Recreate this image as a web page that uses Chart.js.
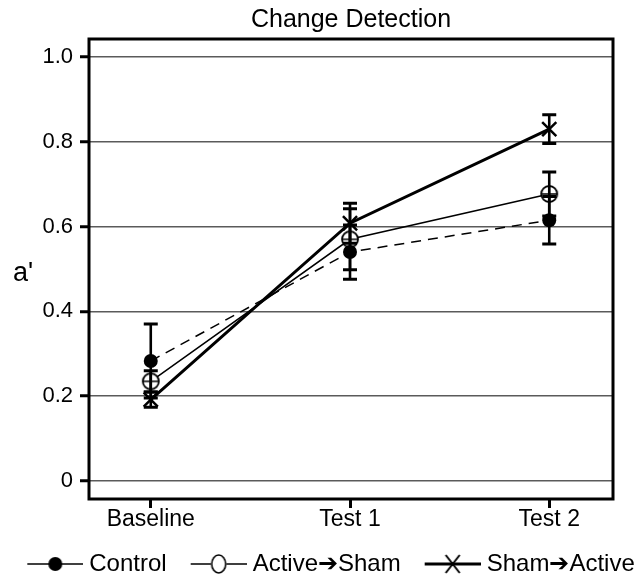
<!DOCTYPE html>
<html>
<head>
<meta charset="utf-8">
<script src="https://cdn.jsdelivr.net/npm/chart.js@4/dist/chart.umd.min.js"></script>
<style>
  html, body { margin: 0; padding: 0; background: #fff; }
  #wrap { width: 642px; height: 578px; }
</style>
</head>
<body>
<div id="wrap"><canvas id="c" width="642" height="578"></canvas></div>
<script>
// ---- data ----
const categories = ['Baseline', 'Test 1', 'Test 2'];
const seriesNames = ['Control', 'Active\u2794Sham', 'Sham\u2794Active'];
const controlMean = [0.283, 0.540, 0.615];
const controlErr  = [0.087, 0.064, 0.056];
const activeMean  = [0.235, 0.570, 0.677];
const activeErr   = [0.025, 0.072, 0.052];
const shamMean    = [0.192, 0.608, 0.830];
const shamErr     = [0.018, 0.047, 0.034];
const yTicks = [0, 0.2, 0.4, 0.6, 0.8, 1.0];
const titleText = 'Change Detection';
const yTitleText = "a'";

const FONT = "'Liberation Sans', Arial, Helvetica, sans-serif";

// ---- marker images ----
function makeCanvas(w, h, draw) {
  const cv = document.createElement('canvas');
  cv.width = w; cv.height = h;
  const g = cv.getContext('2d');
  draw(g, w, h);
  return cv;
}
function drawOpenCross(g, cx, cy, r) {
  g.beginPath(); g.arc(cx, cy, r, 0, Math.PI * 2);
  g.fillStyle = '#fff'; g.fill();
  g.lineWidth = 1.8; g.strokeStyle = '#000'; g.stroke();
  g.lineWidth = 1.4;
  g.beginPath(); g.moveTo(cx - r, cy); g.lineTo(cx + r, cy);
  g.moveTo(cx, cy - r); g.lineTo(cx, cy + r); g.stroke();
}
const activeMarker = makeCanvas(20, 20, (g) => drawOpenCross(g, 10, 10, 8));

// legend icons: 76px wide canvas, symbol drawn in the right 56px
const LW = 76, LH = 22, L0 = 20, LC = 48;
const legendControl = makeCanvas(LW, LH, (g, w, h) => {
  g.strokeStyle = '#000'; g.lineWidth = 1.5;
  g.beginPath(); g.moveTo(L0, h / 2); g.lineTo(w, h / 2); g.stroke();
  g.beginPath(); g.arc(LC, h / 2, 7, 0, Math.PI * 2); g.fillStyle = '#000'; g.fill();
});
const legendActive = makeCanvas(LW, LH, (g, w, h) => {
  g.strokeStyle = '#000'; g.lineWidth = 1.5;
  g.beginPath(); g.moveTo(L0, h / 2); g.lineTo(LC - 8, h / 2);
  g.moveTo(LC + 8, h / 2); g.lineTo(w, h / 2); g.stroke();
  g.beginPath(); g.ellipse(LC, h / 2, 7, 9, 0, 0, Math.PI * 2); g.lineWidth = 1.6; g.stroke();
});
const legendSham = makeCanvas(LW, LH, (g, w, h) => {
  g.strokeStyle = '#000'; g.lineWidth = 3;
  g.beginPath(); g.moveTo(L0, h / 2); g.lineTo(w, h / 2); g.stroke();
  g.lineWidth = 2;
  g.beginPath(); g.moveTo(LC - 7, h / 2 - 9); g.lineTo(LC + 7, h / 2 + 9);
  g.moveTo(LC + 7, h / 2 - 9); g.lineTo(LC - 7, h / 2 + 9); g.stroke();
});
const legendImgs = [legendControl, legendActive, legendSham];

const means = [controlMean, activeMean, shamMean];
const errs = [controlErr, activeErr, shamErr];

function pts(arr) { return arr.map((v, i) => ({ x: i, y: v })); }

// ---- plugins ----
const errorBars = {
  id: 'errorBars',
  afterDatasetsDraw(chart) {
    const { ctx, scales: { x, y } } = chart;
    ctx.save();
    ctx.strokeStyle = '#000';
    means.forEach((m, d) => {
      m.forEach((v, i) => {
        const px = x.getPixelForValue(i);
        const top = y.getPixelForValue(v + errs[d][i]);
        const bot = y.getPixelForValue(v - errs[d][i]);
        ctx.lineWidth = 2.6;
        ctx.beginPath(); ctx.moveTo(px, top); ctx.lineTo(px, bot); ctx.stroke();
        ctx.lineWidth = 3;
        ctx.beginPath();
        ctx.moveTo(px - 7, top); ctx.lineTo(px + 7, top);
        ctx.moveTo(px - 7, bot); ctx.lineTo(px + 7, bot);
        ctx.stroke();
      });
    });
    ctx.restore();
  }
};
const frame = {
  id: 'frame',
  afterDraw(chart) {
    const { ctx, chartArea: a } = chart;
    ctx.save();
    ctx.strokeStyle = '#000'; ctx.lineWidth = 3;
    ctx.strokeRect(a.left, a.top, a.right - a.left, a.bottom - a.top);
    // y axis title (horizontal)
    ctx.fillStyle = '#000';
    ctx.font = '27px ' + FONT;
    ctx.textAlign = 'center';
    ctx.textBaseline = 'alphabetic';
    ctx.fillText(yTitleText, 23, (a.top + a.bottom) / 2 + 12);
    ctx.restore();
  }
};

Chart.defaults.font.family = FONT;
Chart.defaults.color = '#000';

new Chart(document.getElementById('c'), {
  type: 'line',
  data: {
    datasets: [
      {
        label: seriesNames[0], data: pts(controlMean),
        borderColor: '#000', borderWidth: 1.5, borderDash: [10, 7],
        pointStyle: 'circle', pointRadius: 7, pointBackgroundColor: '#000', pointBorderColor: '#000', pointBorderWidth: 0,
        tension: 0, fill: false, clip: false
      },
      {
        label: seriesNames[1], data: pts(activeMean),
        borderColor: '#000', borderWidth: 1.5,
        pointStyle: activeMarker, pointRadius: 8,
        tension: 0, fill: false, clip: false
      },
      {
        label: seriesNames[2], data: pts(shamMean),
        borderColor: '#000', borderWidth: 3,
        pointStyle: 'crossRot', pointRadius: 10, pointBorderColor: '#000', pointBorderWidth: 2.5,
        tension: 0, fill: false, clip: false
      }
    ]
  },
  options: {
    responsive: false,
    animation: false,
    events: [],
    devicePixelRatio: 1,
    layout: { padding: { left: -24, right: -30, top: 0, bottom: -8 } },
    scales: {
      x: {
        type: 'linear', position: 'bottom',
        min: -0.31, max: 2.32,
        afterBuildTicks: (axis) => { axis.ticks = categories.map((c, i) => ({ value: i })); },
        afterFit: (s) => { s.height = 43; },
        ticks: {
          callback: (v) => categories[v],
          font: { size: 23 }, color: '#000', padding: -2, maxRotation: 0, autoSkip: false
        },
        grid: { drawOnChartArea: false, drawTicks: true, tickLength: 9, tickWidth: 3, tickColor: '#000' },
        border: { display: false }
      },
      y: {
        type: 'linear', position: 'left',
        min: -0.0425, max: 1.0425,
        afterBuildTicks: (axis) => { axis.ticks = yTicks.map((v) => ({ value: v })); },
        afterFit: (s) => { s.width = 113; },
        ticks: {
          callback: (v) => (v === 0 ? '0' : v.toFixed(1)),
          font: { size: 22 }, color: '#000', padding: 7
        },
        grid: { color: '#5a5a5a', lineWidth: 1.5, drawTicks: true, tickLength: 9, tickWidth: 3, tickColor: '#000' },
        border: { display: false }
      },
      y2: {
        type: 'linear', position: 'right', display: true,
        min: 0, max: 1,
        afterFit: (s) => { s.width = 59; },
        ticks: { display: false },
        grid: { display: false },
        border: { display: false }
      }
    },
    plugins: {
      tooltip: { enabled: false },
      title: {
        display: true, text: titleText, fullSize: false,
        font: { size: 25, weight: 'normal' }, color: '#000',
        padding: { top: 4.7, bottom: 4.3 }
      },
      legend: {
        display: true, position: 'bottom', align: 'center',
        labels: {
          usePointStyle: true, pointStyleWidth: 64, padding: 10,
          font: { size: 24 }, color: '#000',
          generateLabels: (chart) => seriesNames.map((n, i) => ({
            text: n, pointStyle: legendImgs[i], fillStyle: '#000', strokeStyle: '#000',
            lineWidth: 0, hidden: false, datasetIndex: i, fontColor: '#000'
          }))
        }
      }
    }
  },
  plugins: [errorBars, frame]
});
</script>
</body>
</html>
